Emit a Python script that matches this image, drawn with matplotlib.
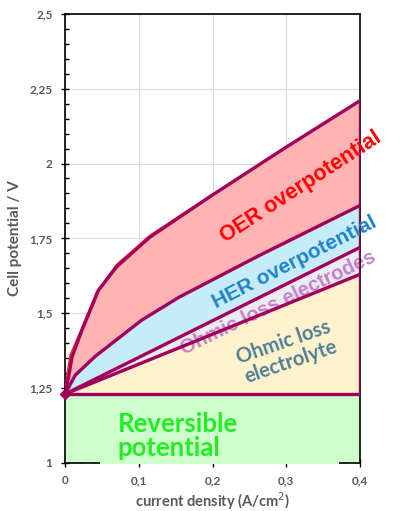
import numpy as np
import matplotlib
matplotlib.use('Agg')
from matplotlib import pyplot as plt
from matplotlib.ticker import MultipleLocator, FuncFormatter

# reversible cell voltage
E_rev = 1.23

# ohmic lines (straight)
j_ohm = [0.0, 0.4]
v_electrolyte = [1.23, 1.63]
v_electrodes = [1.23, 1.72]

# HER overpotential top line
j_her = [0.0, 0.0139, 0.041, 0.104, 0.155, 0.2635, 0.4]
v_her = [1.23, 1.293, 1.356, 1.477, 1.554, 1.693, 1.86]

# OER overpotential top line (total cell voltage)
j_oer = [0.0, 0.005, 0.0095, 0.023, 0.0455, 0.07, 0.115, 0.2, 0.3, 0.4]
v_oer = [1.23, 1.288, 1.354, 1.443, 1.577, 1.655, 1.754, 1.895, 2.055, 2.21]

# thin red curve just above the OER line
j_red = [0.0, 0.003, 0.007, 0.02, 0.043, 0.07, 0.115, 0.2]
v_red = [1.23, 1.3, 1.36, 1.435, 1.572, 1.663, 1.76, 1.898]

xticks = [0, 0.1, 0.2, 0.3, 0.4]
yticks = [1, 1.25, 1.5, 1.75, 2, 2.25, 2.5]

line_c = '#A0005C'
gray = '#595959'

fig = plt.figure(figsize=(4.01, 5.11), dpi=100)
ax = fig.add_axes([0.162, 0.094, 0.736, 0.879])

def band(jl, vl, ju, vu, color):
    xs = list(jl) + list(ju)[::-1]
    ys = list(vl) + list(vu)[::-1]
    ax.fill(xs, ys, color=color, lw=0, zorder=1)

ax.fill_between([0, 0.4], [1.0, 1.0], [E_rev, E_rev], color='#CCFFCC', lw=0, zorder=1)
band(j_ohm, [E_rev, E_rev], j_ohm, v_electrolyte, '#FFF2CC')
band(j_ohm, v_electrolyte, j_ohm, v_electrodes, '#EDEAF0')
band(j_ohm, v_electrodes, j_her, v_her, '#C6ECFA')
band(j_her, v_her, j_oer, v_oer, '#FFB3B3')

# text partly covered by the lines
ax.text(0.289, 1.535, 'Ohmic loss electrodes', color='#C382C8', fontsize=14.5,
        fontweight='bold', family='Liberation Sans', rotation=26,
        ha='center', va='center', rotation_mode='anchor', zorder=2)

lw = 2.4
ax.plot(j_red, v_red, color='#FF2020', lw=1.1, zorder=3)
ax.plot([0, 0.4], [E_rev, E_rev], color=line_c, lw=lw, zorder=4)
ax.plot(j_ohm, v_electrolyte, color=line_c, lw=lw, zorder=4)
ax.plot(j_ohm, v_electrodes, color=line_c, lw=lw, zorder=4)
ax.plot(j_her, v_her, color=line_c, lw=lw, zorder=4)
ax.plot(j_oer, v_oer, color=line_c, lw=lw, zorder=4)
ax.plot([0.4, 0.4], [E_rev, v_oer[-1]], color=line_c, lw=lw, zorder=4,
        solid_capstyle='butt')
ax.plot([0], [E_rev], marker='D', ms=5, color=line_c, zorder=5, clip_on=False)

ax.text(0.32, 1.92, 'OER overpotential', color='#FF0000', fontsize=15.5,
        fontweight='bold', family='Liberation Sans', rotation=33,
        ha='center', va='center', rotation_mode='anchor', zorder=6)
ax.text(0.311, 1.67, 'HER overpotential', color='#1F83C8', fontsize=15,
        fontweight='bold', family='Liberation Sans', rotation=27,
        ha='center', va='center', rotation_mode='anchor', zorder=6)
ax.text(0.301, 1.37, 'Ohmic loss\nelectrolyte', color='#4F7F98', fontsize=14.5,
        fontweight='bold', family='Lato', rotation=19, linespacing=1.05,
        ha='center', va='center', rotation_mode='anchor', zorder=6)
ax.text(0.0716, 1.09, 'Reversible\npotential', color='#22EE22', fontsize=18.5,
        fontweight='bold', family='Lato', linespacing=1.0,
        ha='left', va='center', zorder=6)

ax.set_xlim(0, 0.4)
ax.set_ylim(1, 2.5)
ax.set_xticks(xticks)
ax.set_yticks(yticks)
ax.xaxis.set_minor_locator(MultipleLocator(0.02))
ax.yaxis.set_minor_locator(MultipleLocator(0.05))
fmt = FuncFormatter(lambda v, p: ('%g' % v).replace('.', ','))
ax.xaxis.set_major_formatter(fmt)
ax.yaxis.set_major_formatter(fmt)
ax.grid(True, which='major', color='#D9D9D9', lw=0.8, zorder=0)
ax.set_axisbelow(True)
ax.tick_params(which='major', direction='inout', length=6, width=1, color='black',
               labelsize=8.5, labelcolor=gray, pad=6)
ax.tick_params(which='minor', direction='in', length=3, width=1, color='black')
for lab in ax.get_xticklabels() + ax.get_yticklabels():
    lab.set_family('Lato')
    lab.set_fontweight('bold')
for s in ax.spines.values():
    s.set_color('black')
    s.set_linewidth(1.2)

# green block hides the bottom axis line in the middle
ax.fill_between([0.047, 0.372], [0.995, 0.995], [1.01, 1.01], color='#CCFFCC', lw=0,
                zorder=3, clip_on=False)

ax.set_ylabel('Cell potential / V', color=gray, fontsize=11, fontweight='bold',
              family='Lato', labelpad=5)
ax.set_xlabel('current density (A/cm$^2$)', color=gray, fontsize=10.5,
              fontweight='bold', family='Lato', labelpad=3)

fig.savefig('out.png', dpi=100)
